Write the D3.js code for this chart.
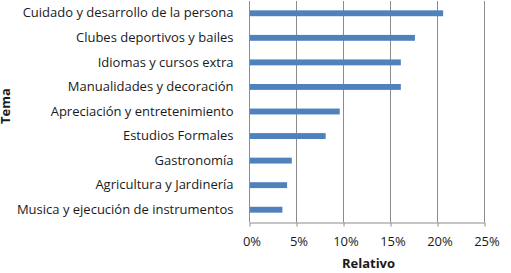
<!DOCTYPE html>
<html>
<head>
<meta charset="utf-8">
<script src="https://cdn.jsdelivr.net/npm/d3@7"></script>
<style>
  body { margin: 0; background: #fff; }
  text { font-family: "Open Sans", sans-serif; fill: #1a1a1a; }
</style>
</head>
<body>
<div class="container"></div>
<script>
var categories = ['Cuidado y desarrollo de la persona', 'Clubes deportivos y bailes',
    'Idiomas y cursos extra', 'Manualidades y decoración', 'Apreciación y entretenimiento',
    'Estudios Formales', 'Gastronomía', 'Agricultura y Jardinería',
    'Musica y ejecución de instrumentos'];
var relativo = [0.206, 0.176, 0.161, 0.161, 0.096, 0.081, 0.045, 0.040, 0.035];
var ticks = [0, 0.05, 0.10, 0.15, 0.20, 0.25];

var WIDTH = 511, HEIGHT = 273;
var plotLeft = 249, plotRight = 484, plotTop = 1, plotBottom = 222;
var FONT = 13;

var svg = d3.select('.container').append('svg')
    .attr('width', WIDTH)
    .attr('height', HEIGHT);

var xScale = d3.scaleLinear().domain([0, 0.25]).range([plotLeft, plotRight]);
var yScale = d3.scaleBand().domain(categories).range([plotTop, plotBottom]).paddingInner(0.76).paddingOuter(0.38);

// gridlines
svg.append('g').selectAll('line')
    .data(ticks.slice(1))
    .enter()
    .append('line')
    .attr('x1', function (d) { return xScale(d) + 0.5; })
    .attr('x2', function (d) { return xScale(d) + 0.5; })
    .attr('y1', plotTop)
    .attr('y2', plotBottom)
    .attr('stroke', '#8c8c8c')
    .attr('stroke-width', 1);

// bars
svg.append('g').selectAll('rect')
    .data(relativo)
    .enter()
    .append('rect')
    .attr('x', xScale(0) + 0.5)
    .attr('y', function (d, i) { return yScale(categories[i]); })
    .attr('width', function (d) { return xScale(d) - xScale(0); })
    .attr('height', yScale.bandwidth())
    .attr('fill', '#4f81bd');

// x axis
var xAxis = d3.axisBottom(xScale)
    .tickValues(ticks)
    .tickFormat(d3.format('.0%'))
    .tickSize(4)
    .tickSizeOuter(0);
var gx = svg.append('g')
    .attr('transform', 'translate(0.5,' + (plotBottom + 0.5) + ')')
    .call(xAxis);
gx.select('.domain').attr('stroke', '#8c8c8c');
gx.selectAll('.tick line').attr('stroke', '#8c8c8c');
gx.selectAll('.tick text')
    .attr('x', 2)
    .attr('y', 14)
    .attr('font-size', FONT)
    .attr('font-family', '"Open Sans", sans-serif')
    .attr('fill', '#1a1a1a');

// y axis
var yAxis = d3.axisLeft(yScale).tickSize(0).tickPadding(16);
var gy = svg.append('g')
    .attr('transform', 'translate(' + (plotLeft + 0.5) + ',0)')
    .call(yAxis);
gy.select('.domain').attr('stroke', '#8c8c8c').attr('d', 'M0,' + plotTop + 'V' + plotBottom);
gy.selectAll('.tick text')
    .attr('font-size', FONT)
    .attr('font-family', '"Open Sans", sans-serif')
    .attr('fill', '#1a1a1a');

// axis titles
svg.append('text')
    .attr('x', (plotLeft + plotRight) / 2 + 2)
    .attr('y', 268)
    .attr('text-anchor', 'middle')
    .attr('font-size', FONT)
    .attr('font-weight', 'bold')
    .text('Relativo');

svg.append('text')
    .attr('transform', 'translate(10,106) rotate(-90)')
    .attr('text-anchor', 'middle')
    .attr('font-size', FONT)
    .attr('font-weight', 'bold')
    .text('Tema');
</script>
</body>
</html>
